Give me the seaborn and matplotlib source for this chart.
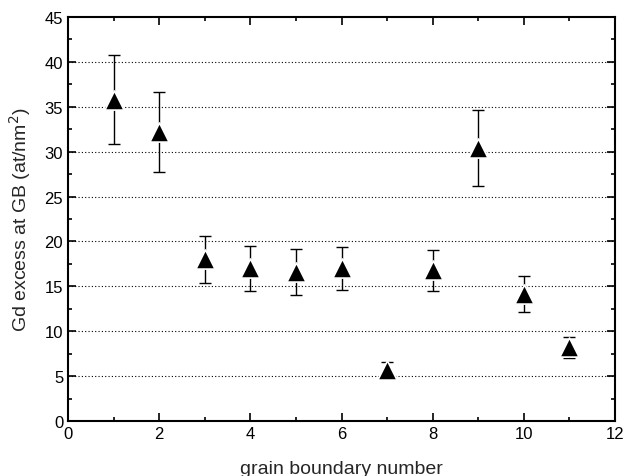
import numpy as np
import pandas as pd
import matplotlib
matplotlib.use('Agg')
import matplotlib.pyplot as plt
import seaborn as sns
from matplotlib.ticker import MultipleLocator

# Data
gb_number = [1, 2, 3, 4, 5, 6, 7, 8, 9, 10, 11]
gd_excess = [35.8, 32.2, 18.0, 17.0, 16.6, 17.0, 5.7, 16.8, 30.4, 14.1, 8.2]
gd_error = [5.0, 4.5, 2.6, 2.5, 2.6, 2.4, 0.9, 2.3, 4.2, 2.0, 1.2]

df = pd.DataFrame({'gb': gb_number, 'excess': gd_excess, 'err': gd_error})

sns.set_style('ticks')
plt.rcParams['font.family'] = ['Liberation Sans', 'DejaVu Sans']

fig = plt.figure(figsize=(6.24, 4.77), dpi=100)
ax = fig.add_axes([0.109, 0.1153, 0.8766, 0.847])

ax.errorbar(df['gb'], df['excess'], yerr=df['err'], fmt='none',
            ecolor='black', elinewidth=1.0, capsize=4, capthick=1.0, zorder=2)
# white edge gives the small gap between marker and error bar
sns.scatterplot(data=df, x='gb', y='excess', marker='^', s=190,
                color='black', edgecolor='white', linewidth=1.2, ax=ax, zorder=3)

ax.set_xlim(0, 12)
ax.set_ylim(0, 45)
ax.xaxis.set_major_locator(MultipleLocator(2))
ax.xaxis.set_minor_locator(MultipleLocator(1))
ax.yaxis.set_major_locator(MultipleLocator(5))
ax.yaxis.set_minor_locator(MultipleLocator(2.5))

for y in range(5, 45, 5):
    ax.axhline(y, color='black', linestyle=(0, (1, 2)), linewidth=0.8, zorder=1)

ax.tick_params(which='both', direction='in', top=True, right=True,
               labeltop=False, labelright=False, width=1.2, labelsize=12, colors='black')
ax.tick_params(which='major', length=6)
ax.tick_params(which='minor', length=3)
for s in ax.spines.values():
    s.set_linewidth(1.5)
    s.set_color('black')

ax.set_xlabel('grain boundary number', fontsize=14, labelpad=14)
ax.set_ylabel('Gd excess at GB (at/nm$^2$)', fontsize=14, labelpad=8)

plt.savefig('out.png', dpi=100)
plt.close()
